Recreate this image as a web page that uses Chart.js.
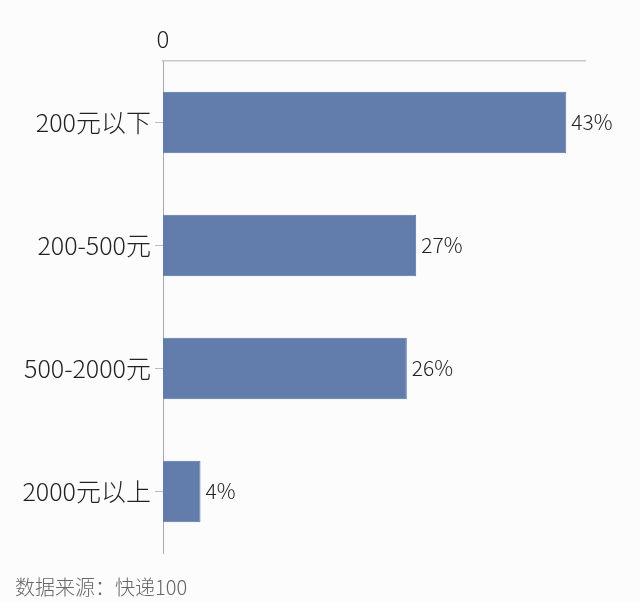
<!DOCTYPE html>
<html>
<head>
<meta charset="utf-8">
<script src="https://cdn.jsdelivr.net/npm/chart.js@4.4.1/dist/chart.umd.min.js"></script>
<style>
  html, body { margin: 0; padding: 0; background: #fcfcfd; }
  #wrap { position: relative; width: 640px; height: 602px; }
</style>
</head>
<body>
<div id="wrap"><canvas id="myChart" width="640" height="602"></canvas></div>
<script>
// price bands and their share (%)
var categories = ['200元以下', '200-500元', '500-2000元', '2000元以上'];
var shares = [43, 27, 26, 4];
var valueLabels = ['43%', '27%', '26%', '4%'];
var sourceText = '数据来源：快递100';

var cjkFont = '"Noto Sans CJK SC", "Noto Sans", sans-serif';

// draw the % next to each bar and the source line at the bottom
var labelPlugin = {
  id: 'labelPlugin',
  afterDatasetsDraw: function(chart) {
    var ctx = chart.ctx;
    var meta = chart.getDatasetMeta(0);
    ctx.save();
    ctx.font = '300 21px ' + cjkFont;
    ctx.fillStyle = '#222';
    ctx.textAlign = 'left';
    ctx.textBaseline = 'middle';
    meta.data.forEach(function(bar, i) {
      ctx.fillText(valueLabels[i], bar.x + 5, bar.y);
    });
    ctx.font = '300 20px ' + cjkFont;
    ctx.fillStyle = '#666';
    ctx.fillText(sourceText, 15, 587);
    ctx.restore();
  }
};

const data = {
  labels: categories,
  datasets: [{
    data: shares,
    backgroundColor: '#627cac',
    borderColor: '#5a73a3',
    borderWidth: 1,
    barPercentage: 0.5,
    categoryPercentage: 1.0
  }]
};

const config = {
  type: 'bar',
  data: data,
  options: {
    indexAxis: 'y',
    responsive: false,
    animation: false,
    layout: { padding: { top: 0, right: 55, bottom: 49, left: 0 } },
    plugins: { legend: { display: false }, tooltip: { enabled: false } },
    scales: {
      x: {
        position: 'top',
        min: 0,
        max: 45,
        afterFit: function(scale) { scale.height = 61; },
        grid: { display: false, drawTicks: false },
        border: { display: true, color: '#c8c8c8', width: 1.5 },
        ticks: {
          stepSize: 45,
          padding: 8,
          color: '#222',
          font: { size: 24, weight: 300, family: cjkFont },
          callback: function(v) { return v === 0 ? '0' : ''; }
        }
      },
      y: {
        afterFit: function(scale) { scale.width = 163; },
        grid: { offset: false, drawOnChartArea: false, drawTicks: true, tickLength: 8, color: '#bbb' },
        border: { display: true, color: '#aaa', width: 1 },
        ticks: {
          padding: 4,
          color: '#222',
          font: { size: 25, weight: 300, family: cjkFont }
        }
      }
    }
  },
  plugins: [labelPlugin]
};

var myChart = new Chart(document.getElementById('myChart'), config);
</script>
</body>
</html>
